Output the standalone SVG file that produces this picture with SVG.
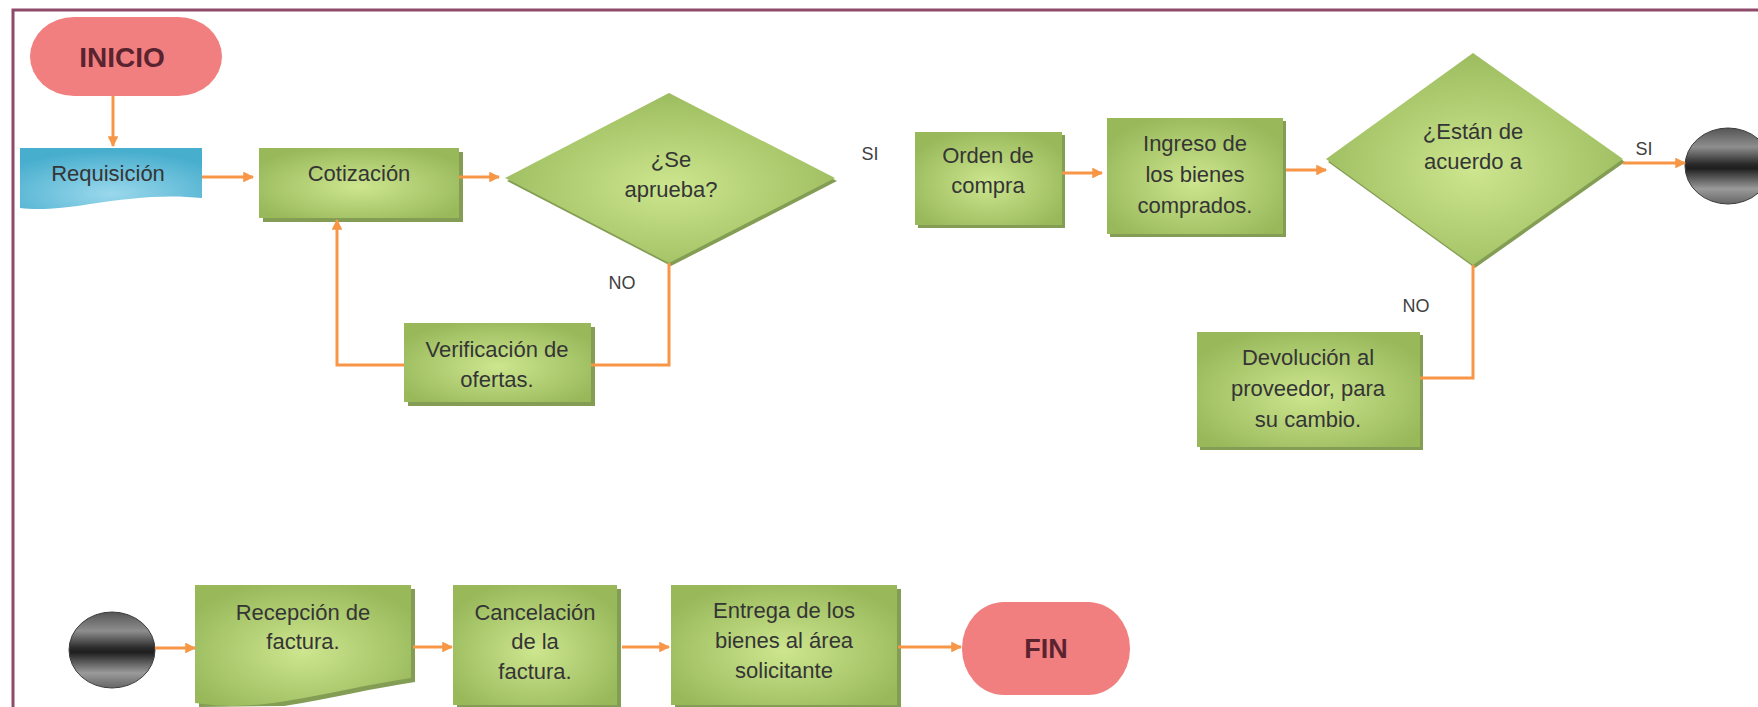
<svg xmlns="http://www.w3.org/2000/svg" width="1758" height="707" viewBox="0 0 1758 707">
<defs>
<radialGradient id="gGreen" cx="50%" cy="55%" r="60%">
<stop offset="0%" stop-color="#cde68f"/>
<stop offset="100%" stop-color="#98b85a"/>
</radialGradient>
<radialGradient id="gBlue" cx="50%" cy="75%" r="70%">
<stop offset="0%" stop-color="#9ad8ec"/>
<stop offset="100%" stop-color="#48aece"/>
</radialGradient>
<linearGradient id="gBall" x1="0" y1="0" x2="0" y2="1">
<stop offset="0%" stop-color="#555555"/>
<stop offset="25%" stop-color="#8e8e8e"/>
<stop offset="47%" stop-color="#2c2c2c"/>
<stop offset="53%" stop-color="#1e1e1e"/>
<stop offset="80%" stop-color="#9a9a9a"/>
<stop offset="100%" stop-color="#666666"/>
</linearGradient>
<marker id="arr" viewBox="0 0 10 10" refX="9" refY="5" markerWidth="3.6" markerHeight="3.6" orient="auto" markerUnits="strokeWidth">
<path d="M0,0 L10,5 L0,10 Z" fill="#f79646"/>
</marker>
</defs>
<style>
.proc{fill:url(#gGreen);}
.shadow{fill:#6d8c36;opacity:0.85;}
.term{fill:#f27f7f;}
.ball{fill:url(#gBall);stroke:#3a3a3a;stroke-width:1;}
.doc{fill:url(#gBlue);}
.t{font-family:"Liberation Sans",Arial,sans-serif;font-size:22px;fill:#353535;text-anchor:middle;}
.tb{font-family:"Liberation Sans",Arial,sans-serif;font-size:28px;font-weight:bold;fill:#5a2330;text-anchor:middle;}
.lbl{font-family:"Liberation Sans",Arial,sans-serif;font-size:18px;fill:#404040;text-anchor:middle;}
.c{fill:none;stroke:#f79646;stroke-width:3;}
.frame{fill:none;stroke:#8e4a6a;stroke-width:3;}
</style>
<rect width="1758" height="707" fill="#ffffff"/>
<path class="frame" d="M13,707 V10 H1758"/>

<g id="inicio">
<rect class="term" x="30" y="17" width="192" height="79" rx="44" ry="39.5"/>
<text class="tb" x="122" y="67">INICIO</text>
</g>
<g id="requisicion">
<path class="doc" d="M20,148 H202 V198 C165,194 130,198 90,204 C60,209 38,210 20,208 Z"/>
<text class="t" x="108" y="181">Requisición</text>
</g>
<g id="cotizacion">
<rect class="shadow" x="263" y="152" width="200" height="70"/>
<rect class="proc" x="259" y="148" width="200" height="70"/>
<text class="t" x="359" y="181">Cotización</text>
</g>
<g id="aprueba">
<polygon class="shadow" points="507,181 671,96 837,181 671,266"/>
<polygon class="proc" points="505,178 669,93 835,178 669,263"/>
<text class="t" x="671" y="167">¿Se</text>
<text class="t" x="671" y="197">aprueba?</text>
</g>
<g id="verificacion">
<rect class="shadow" x="408" y="327" width="187" height="79"/>
<rect class="proc" x="404" y="323" width="187" height="79"/>
<text class="t" x="497" y="357">Verificación de</text>
<text class="t" x="497" y="387">ofertas.</text>
</g>
<g id="orden">
<rect class="shadow" x="918" y="135" width="147" height="93"/>
<rect class="proc" x="915" y="132" width="147" height="93"/>
<text class="t" x="988" y="163">Orden de</text>
<text class="t" x="988" y="193">compra</text>
</g>
<g id="ingreso">
<rect class="shadow" x="1110" y="121" width="176" height="116"/>
<rect class="proc" x="1107" y="118" width="176" height="116"/>
<text class="t" x="1195" y="151">Ingreso de</text>
<text class="t" x="1195" y="182">los bienes</text>
<text class="t" x="1195" y="213">comprados.</text>
</g>
<g id="acuerdo">
<polygon class="shadow" points="1328,162 1475,56 1625,162 1475,268"/>
<polygon class="proc" points="1326,159 1473,53 1623,159 1473,265"/>
<text class="t" x="1473" y="139">¿Están de</text>
<text class="t" x="1473" y="169">acuerdo a</text>
</g>
<g id="conector-a">
<ellipse class="ball" cx="1728" cy="166" rx="43" ry="38"/>
</g>
<g id="devolucion">
<rect class="shadow" x="1200" y="335" width="223" height="115"/>
<rect class="proc" x="1197" y="332" width="223" height="115"/>
<text class="t" x="1308" y="365">Devolución al</text>
<text class="t" x="1308" y="396">proveedor, para</text>
<text class="t" x="1308" y="427">su cambio.</text>
</g>
<g id="conector-b">
<ellipse class="ball" cx="112" cy="650" rx="43" ry="38"/>
</g>
<g id="recepcion">
<path class="shadow" d="M199,589 H415 V682 C374,688 334,698 284,706 L199,707 Z"/>
<path class="proc" d="M195,585 H411 V678 C370,684 330,694 280,702 C240,708 215,706 195,703 Z"/>
<text class="t" x="303" y="620">Recepción de</text>
<text class="t" x="303" y="649">factura.</text>
</g>
<g id="cancelacion">
<rect class="shadow" x="457" y="589" width="164" height="120"/>
<rect class="proc" x="453" y="585" width="164" height="120"/>
<text class="t" x="535" y="620">Cancelación</text>
<text class="t" x="535" y="649">de la</text>
<text class="t" x="535" y="679">factura.</text>
</g>
<g id="entrega">
<rect class="shadow" x="675" y="589" width="226" height="120"/>
<rect class="proc" x="671" y="585" width="226" height="120"/>
<text class="t" x="784" y="618">Entrega de los</text>
<text class="t" x="784" y="648">bienes al área</text>
<text class="t" x="784" y="678">solicitante</text>
</g>
<g id="fin">
<rect class="term" x="962" y="602" width="168" height="93" rx="42" ry="46"/>
<text class="tb" x="1046" y="658" style="font-size:27px">FIN</text>
</g>

<g id="connectors">
<path class="c" d="M113,96 V146" marker-end="url(#arr)"/>
<path class="c" d="M202,177 H253" marker-end="url(#arr)"/>
<path class="c" d="M459,177 H499" marker-end="url(#arr)"/>
<path class="c" d="M669,263 V365 H591"/>
<path class="c" d="M404,365 H337 V220" marker-end="url(#arr)"/>
<path class="c" d="M1062,173 H1102" marker-end="url(#arr)"/>
<path class="c" d="M1286,170 H1326" marker-end="url(#arr)"/>
<path class="c" d="M1623,163 H1685" marker-end="url(#arr)"/>
<path class="c" d="M1473,265 V378 H1420"/>
<path class="c" d="M155,648 H195" marker-end="url(#arr)"/>
<path class="c" d="M413,647 H452" marker-end="url(#arr)"/>
<path class="c" d="M622,647 H669" marker-end="url(#arr)"/>
<path class="c" d="M898,647 H961" marker-end="url(#arr)"/>
</g>
<g id="labels">
<text class="lbl" x="870" y="160">SI</text>
<text class="lbl" x="622" y="289">NO</text>
<text class="lbl" x="1416" y="312">NO</text>
<text class="lbl" x="1644" y="155">SI</text>
</g>
</svg>
